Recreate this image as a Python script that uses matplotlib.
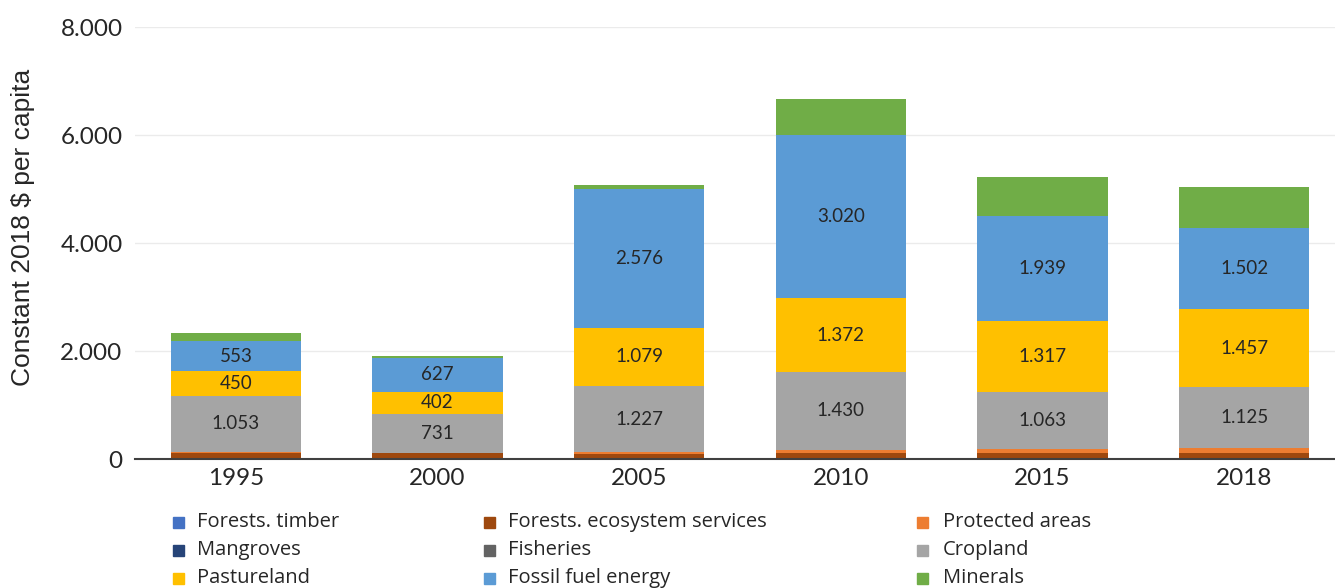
import matplotlib.pyplot as plt
from matplotlib.patches import Rectangle
import numpy as np

years = ["1995", "2000", "2005", "2010", "2015", "2018"]

timber = [3, 3, 3, 3, 3, 3]
eco_services = [107, 107, 87, 107, 107, 107]
protected = [15, 3, 37, 68, 74, 93]
mangroves = [0, 0, 0, 0, 0, 0]
fisheries = [1, 1, 1, 1, 1, 1]
cropland = [1053, 731, 1227, 1430, 1063, 1125]
pastureland = [450, 402, 1079, 1372, 1317, 1457]
fossil = [553, 627, 2576, 3020, 1939, 1502]
minerals = [150, 35, 65, 667, 720, 750]

series = [
    ("Forests. timber", timber, "#4472C4"),
    ("Forests. ecosystem services", eco_services, "#9E480E"),
    ("Protected areas", protected, "#ED7D31"),
    ("Mangroves", mangroves, "#264478"),
    ("Fisheries", fisheries, "#636363"),
    ("Cropland", cropland, "#A5A5A5"),
    ("Pastureland", pastureland, "#FFC000"),
    ("Fossil fuel energy", fossil, "#5B9BD5"),
    ("Minerals", minerals, "#70AD47"),
]
labelled = {"Cropland", "Pastureland", "Fossil fuel energy"}

plt.rcParams['font.family'] = ['Lato', 'DejaVu Sans']
W, H = 1335, 588

fig = plt.figure(figsize=(W / 100, H / 100), dpi=100)
ax = fig.add_axes([135 / W, 0.219, 1210 / W, 0.735])

x = np.arange(len(years))
bottom = np.zeros(len(years))
for name, vals, col in series:
    vals = np.array(vals, dtype=float)
    ax.bar(x, vals, 0.645, bottom=bottom, color=col, label=name, zorder=2)
    if name in labelled:
        for xi, b, v in zip(x, bottom, vals):
            ax.text(xi, b + v / 2, f"{int(v):,}".replace(",", "."), ha="center", va="center",
                    fontsize=13.5, color="#262626", zorder=3)
    bottom += vals

ax.set_xlim(-0.5, 5.5)
ax.set_ylim(0, 8000)
ax.set_yticks([0, 2000, 4000, 6000, 8000])
ax.set_yticklabels(["0", "2.000", "4.000", "6.000", "8.000"])
ax.set_xticks(x)
ax.set_xticklabels(years)
ax.tick_params(axis="both", labelsize=17.5, colors="#262626", length=0)
ax.tick_params(axis="x", pad=6)
ax.tick_params(axis="y", pad=9)
ax.grid(axis="y", color="#EBEBEB", linewidth=1, zorder=0)
for s in ["top", "right", "left"]:
    ax.spines[s].set_visible(False)
ax.spines["bottom"].set_color("#404040")
ax.spines["bottom"].set_linewidth(1.5)
ax.spines["bottom"].set_zorder(4)

fig.text(23 / W, 1 - 227 / H, "Constant 2018 $ per capita", rotation=90, ha="center", va="center",
         fontsize=19, color="#262626", family="Liberation Sans")

# legend: three columns, filled row by row
marker_x = [173, 484, 917]
text_x = [197, 508, 943]
row_y = [522, 550, 578]
for i, (name, vals, col) in enumerate(series):
    r, c = divmod(i, 3)
    fig.patches.append(Rectangle((marker_x[c] / W, 1 - (row_y[r] + 5.5) / H), 11 / W, 11 / H,
                                 transform=fig.transFigure, color=col))
    fig.text(text_x[c] / W, 1 - row_y[r] / H, name, ha="left", va="center",
             fontsize=14.5, color="#262626", family=["Open Sans", "DejaVu Sans"])

plt.savefig("out.png", dpi=100)
